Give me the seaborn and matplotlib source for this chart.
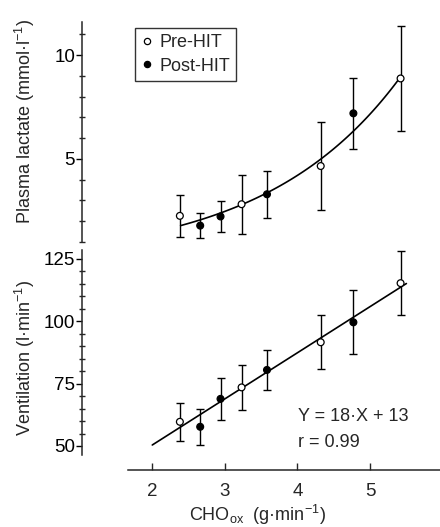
import numpy as np
import pandas as pd
import matplotlib
matplotlib.use("Agg")
import matplotlib.pyplot as plt
import seaborn as sns
from matplotlib.lines import Line2D
from matplotlib.ticker import FixedLocator

# ---------------- data ----------------
phase = ["Pre-HIT", "Post-HIT", "Post-HIT", "Pre-HIT", "Post-HIT", "Pre-HIT", "Post-HIT", "Pre-HIT"]
cho_ox = [2.38, 2.66, 2.94, 3.23, 3.58, 4.32, 4.77, 5.42]
lactate = [2.26, 1.79, 2.23, 2.82, 3.30, 4.66, 7.20, 8.88]
lactate_sd = [1.00, 0.60, 0.73, 1.42, 1.13, 2.10, 1.72, 2.52]
ventilation = [59.7, 57.7, 68.9, 73.5, 80.5, 91.6, 99.6, 115.3]
ventilation_sd = [7.5, 7.2, 8.5, 9.0, 7.9, 10.9, 12.9, 12.7]

# fitted curves as drawn in the figure
lact_fit_a, lact_fit_b = 0.5025, 0.5315      # lactate = a * exp(b * CHOox)
lact_fit_range = [2.39, 5.42]
vent_fit_slope, vent_fit_icpt = 18.5, 13.4   # drawn regression line
vent_fit_range = [2.0, 5.5]

x_ticks = [2, 3, 4, 5]
lact_ticks = [5, 10]
vent_ticks = [50, 75, 100, 125]
legend_labels = ["Pre-HIT", "Post-HIT"]
equation_text = "Y = 18·X + 13"
r_text = "r = 0.99"

df = pd.DataFrame({"phase": phase, "cho": cho_ox, "lac": lactate, "lac_sd": lactate_sd,
                   "vent": ventilation, "vent_sd": ventilation_sd})

sns.set_style("ticks")
FAM = ["Liberation Sans", "DejaVu Sans"]
plt.rcParams["font.family"] = FAM
plt.rcParams["mathtext.fontset"] = "custom"
plt.rcParams["mathtext.rm"] = "Liberation Sans"
plt.rcParams["mathtext.it"] = "Liberation Sans"

W, H = 440, 527
fig = plt.figure(figsize=(W / 100, H / 100), dpi=100)
fig.patch.set_facecolor("white")

def fx(px):
    return px / W

def fy(py):
    return 1 - py / H

ax1 = fig.add_axes([fx(82), fy(242), (440 - 82) / W, 220 / H])
ax2 = fig.add_axes([fx(82), fy(470), (440 - 82) / W, 220 / H])

xlim = (1.032, 5.963)
pal = {"Pre-HIT": "white", "Post-HIT": "black"}
MS = 24
LW = 1.0

def draw_panel(ax, ycol, sdcol, fit_x, fit_y):
    fit_df = pd.DataFrame({"x": fit_x, "y": fit_y})
    sns.lineplot(data=fit_df, x="x", y="y", ax=ax, color="black", lw=1.2, zorder=2)
    ax.errorbar(df["cho"], df[ycol], yerr=df[sdcol], fmt="none", ecolor="black",
                elinewidth=LW, capsize=3.0, capthick=LW, zorder=3, clip_on=False)
    sns.scatterplot(data=df, x="cho", y=ycol, hue="phase", palette=pal, ax=ax,
                    s=MS, edgecolor="black", linewidth=0.9, zorder=4, legend=False,
                    clip_on=False)
    ax.set_xlim(*xlim)
    ax.set_xlabel("")
    ax.set_ylabel("")
    for s in ["top", "right"]:
        ax.spines[s].set_visible(False)
    ax.spines["left"].set_linewidth(1.1)
    ax.set_facecolor("none")

# lactate panel
xf = np.linspace(lact_fit_range[0], lact_fit_range[1], 100)
draw_panel(ax1, "lac", "lac_sd", xf, lact_fit_a * np.exp(lact_fit_b * xf))
ax1.set_ylim(1.0, 11.6)
ax1.spines["bottom"].set_visible(False)
ax1.set_xticks([])
ax1.set_yticks(lact_ticks)
ax1.yaxis.set_minor_locator(FixedLocator([1, 2, 3, 4, 6, 7, 8, 9, 11]))

# ventilation panel
xv = np.array(vent_fit_range)
draw_panel(ax2, "vent", "vent_sd", xv, vent_fit_slope * xv + vent_fit_icpt)
ax2.set_ylim(40.37, 128.6)
ax2.spines["left"].set_bounds(46.4, 128.6)
ax2.spines["bottom"].set_bounds(1.665, 5.963)
ax2.spines["bottom"].set_linewidth(1.1)
ax2.set_xticks(x_ticks)
ax2.set_xticklabels([str(t) for t in x_ticks])
ax2.set_yticks(vent_ticks)
ax2.yaxis.set_minor_locator(FixedLocator([v for v in range(55, 125, 5) if v not in vent_ticks]))

for ax in (ax1, ax2):
    ax.tick_params(axis="y", which="major", direction="out", length=4, width=1.0,
                   labelsize=13.5, pad=1, colors="black")
    ax.tick_params(axis="y", which="minor", direction="inout", length=4, width=1.0)
ax2.tick_params(axis="x", which="major", direction="in", length=5, width=1.0,
                labelsize=13.5, pad=9)

# axis titles
fig.text(fx(25), fy(122), "Plasma lactate (mmol·l$^{-1}$)", rotation=90,
         ha="center", va="center", fontsize=13)
fig.text(fx(25), fy(358), "Ventilation (l·min$^{-1}$)", rotation=90,
         ha="center", va="center", fontsize=13)
fig.text(fx(257), fy(521), "CHO$_{ox}$  (g·min$^{-1}$)", ha="center",
         va="baseline", fontsize=13)

# annotations
fig.text(fx(298), fy(421), equation_text, ha="left", va="baseline", fontsize=13)
fig.text(fx(298), fy(447), r_text, ha="left", va="baseline", fontsize=13)

# legend
handles = [
    Line2D([], [], ls="none", marker="o", ms=4.5, mfc=pal[lbl], mec="black", mew=0.9)
    for lbl in legend_labels
]
leg = ax1.legend(handles, legend_labels, loc="upper left",
                 bbox_to_anchor=((135 - 82) / 358, 1 - (28 - 22) / 220),
                 borderaxespad=0, frameon=True, fancybox=False, fontsize=13,
                 handlelength=0.6, handletextpad=0.4, labelspacing=0.35,
                 borderpad=0.35)
leg.get_frame().set_edgecolor("black")
leg.get_frame().set_linewidth(1.0)

fig.savefig("out.png", dpi=100)
